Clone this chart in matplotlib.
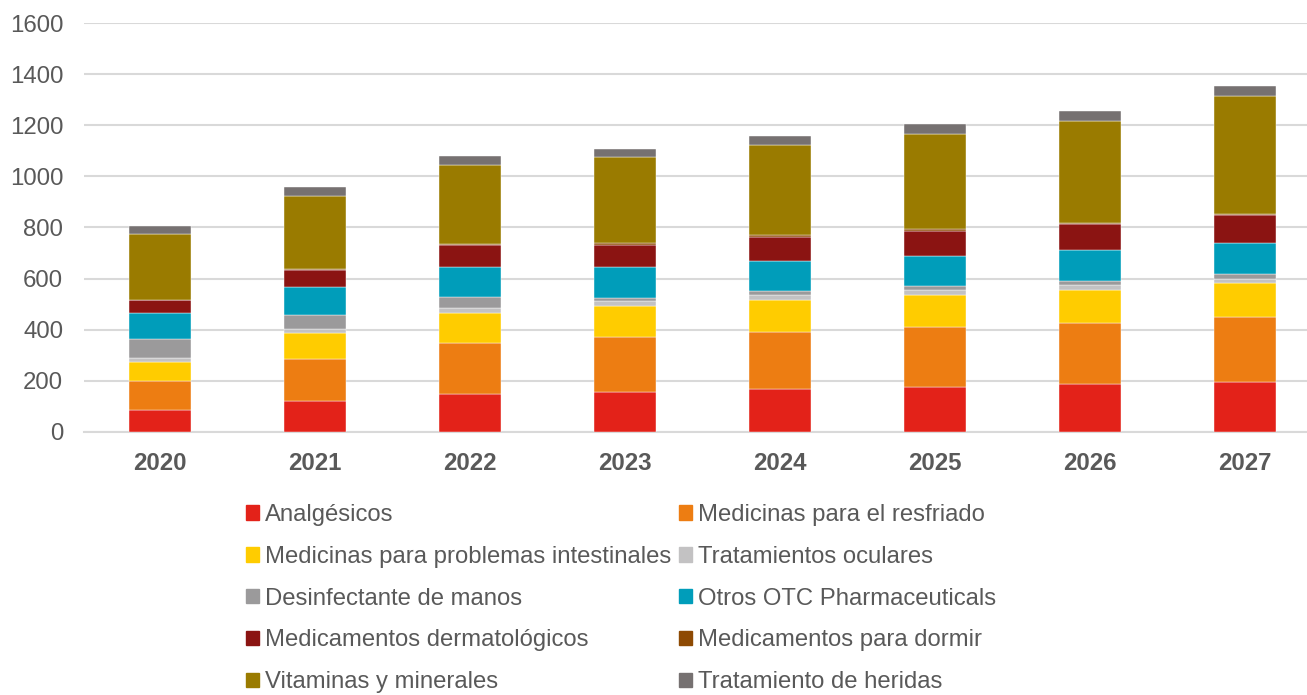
import matplotlib
matplotlib.use("Agg")
import matplotlib.pyplot as plt
import matplotlib.patches as patches
import numpy as np

plt.rcParams['font.family'] = ['Liberation Sans', 'DejaVu Sans']

years = ['2020', '2021', '2022', '2023', '2024', '2025', '2026', '2027']

categorias = [
    'Analgésicos',
    'Medicinas para el resfriado',
    'Medicinas para problemas intestinales',
    'Tratamientos oculares',
    'Desinfectante de manos',
    'Otros OTC Pharmaceuticals',
    'Medicamentos dermatológicos',
    'Medicamentos para dormir',
    'Vitaminas y minerales',
    'Tratamiento de heridas',
]

analgesicos = [87, 121, 147, 158, 167, 175, 186, 194]
resfriado = [112, 164, 200, 212, 226, 234, 241, 257]
intestinales = [76, 101, 118, 124, 125, 125, 129, 130]
oculares = [15, 15, 20, 18, 18, 21, 18, 18]
desinfectante = [72, 55, 45, 14, 15, 15, 17, 18]
otros_otc = [102, 111, 116, 119, 118, 119, 120, 122]
dermatologicos = [52, 68, 86, 88, 94, 98, 104, 109]
dormir = [2, 3, 3, 6, 7, 6, 4, 3]
vitaminas = [257, 286, 309, 335, 353, 374, 399, 463]
heridas = [31, 34, 34, 33, 36, 39, 38, 38]

series = [analgesicos, resfriado, intestinales, oculares, desinfectante,
          otros_otc, dermatologicos, dormir, vitaminas, heridas]

colores = ['#E32219', '#ED7D12', '#FFCC00', '#C3C2C3', '#9B9A9B',
           '#009DBA', '#8B1412', '#8E4A03', '#9A7B00', '#767171']

fig = plt.figure(figsize=(13.07, 6.95), dpi=100)
ax = fig.add_axes([84 / 1307, 1 - 432 / 695, 1 - 84 / 1307, 409 / 695])

x = np.arange(len(years))
base = np.zeros(len(years))
handles = []
for nombre, valores, color in zip(categorias, series, colores):
    ax.bar(x, valores, width=0.4, bottom=base, color=color,
           edgecolor='white', linewidth=0.3, zorder=3)
    base = base + np.array(valores)
    handles.append(patches.Patch(color=color, label=nombre))

ax.set_xlim(-0.49, 7.4)
ax.set_ylim(0, 1600)
ax.set_yticks(range(0, 1601, 200))
ax.set_xticks(x)
ax.set_xticklabels(years, fontweight='bold')
ax.grid(axis='y', color='#d9d9d9', linewidth=1.5, zorder=0)
for lado in ['top', 'right', 'left']:
    ax.spines[lado].set_visible(False)
ax.spines['bottom'].set_color('#d9d9d9')
ax.spines['bottom'].set_linewidth(1.5)
ax.tick_params(axis='both', length=0, labelsize=17.3, colors='#595959')
ax.tick_params(axis='y', pad=15)
ax.tick_params(axis='x', pad=14.5)

# leyenda en dos columnas, llenada por filas
orden = [0, 2, 4, 6, 8, 1, 3, 5, 7, 9]
leg = fig.legend([handles[i] for i in orden], [categorias[i] for i in orden],
                 ncol=2, loc='upper left', bbox_to_anchor=(246 / 1307, 1 - 504 / 695),
                 frameon=False, fontsize=17.2, handlelength=0.55, handleheight=0.55,
                 handletextpad=0.25, columnspacing=0.3, labelspacing=0.83,
                 borderpad=0, borderaxespad=0)
for t in leg.get_texts():
    t.set_color('#595959')

fig.savefig('out.png', dpi=100)
